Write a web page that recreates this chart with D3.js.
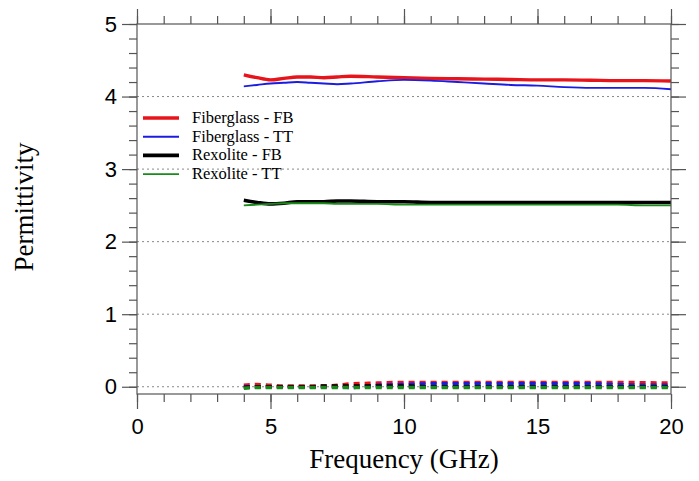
<!DOCTYPE html>
<html>
<head>
<meta charset="utf-8">
<script src="https://cdn.jsdelivr.net/npm/d3@7"></script>
<style>
  body { margin: 0; background: #fff; }
  .tick text { font-family: "Liberation Sans", Arial, sans-serif; font-size: 22px; fill: #000; }
  .domain { display: none; }
  .tick line { stroke: #555; stroke-width: 1.2; }
</style>
</head>
<body>
<svg width="699" height="481"></svg>
<script>
const width = 699;
const height = 481;

// frequency samples (GHz)
const freq = [4, 4.5, 5, 5.5, 6, 6.5, 7, 7.5, 8, 9, 10, 11, 12, 13, 14, 15, 16, 17, 18, 19, 20];

// real part (solid)
const fiberFB = [4.30, 4.26, 4.23, 4.25, 4.27, 4.27, 4.26, 4.27, 4.28, 4.27, 4.26, 4.25, 4.245, 4.24, 4.235, 4.23, 4.23, 4.225, 4.22, 4.22, 4.215];
const fiberTT = [4.14, 4.16, 4.18, 4.19, 4.20, 4.19, 4.18, 4.17, 4.18, 4.21, 4.23, 4.22, 4.20, 4.18, 4.16, 4.15, 4.13, 4.12, 4.12, 4.12, 4.10];
const rexFB = [2.57, 2.54, 2.52, 2.53, 2.55, 2.55, 2.55, 2.56, 2.56, 2.55, 2.55, 2.54, 2.54, 2.54, 2.54, 2.54, 2.54, 2.54, 2.54, 2.54, 2.54];
const rexTT = [2.50, 2.51, 2.52, 2.53, 2.53, 2.53, 2.53, 2.52, 2.52, 2.52, 2.51, 2.51, 2.51, 2.51, 2.51, 2.51, 2.51, 2.51, 2.51, 2.50, 2.50];

// imaginary part (dashed)
const fiberFBi = [0.02, 0.03, 0.02, 0.01, 0.01, 0.01, 0.01, 0.02, 0.04, 0.05, 0.06, 0.06, 0.06, 0.06, 0.06, 0.06, 0.06, 0.06, 0.06, 0.055, 0.05];
const fiberTTi = [0.0, 0.0, 0.0, 0.0, 0.0, 0.0, 0.0, 0.0, -0.01, 0.02, 0.03, 0.04, 0.04, 0.04, 0.04, 0.04, 0.04, 0.04, 0.03, 0.02, 0.02];
const rexFBi = [-0.01, 0.0, 0.0, 0.0, 0.0, 0.0, 0.01, 0.01, 0.01, 0.01, 0.01, 0.0, 0.0, 0.0, 0.0, 0.0, 0.0, 0.0, 0.0, 0.0, 0.0];
const rexTTi = [-0.02, -0.01, -0.01, -0.01, -0.01, -0.01, -0.01, -0.01, -0.01, -0.01, -0.01, -0.01, -0.01, -0.01, -0.01, -0.01, -0.01, -0.01, -0.01, -0.01, -0.01];

const xTicks = [0, 5, 10, 15, 20];
const yTicks = [0, 1, 2, 3, 4, 5];
const gridVals = [0, 1, 2, 3, 4];

const series = [
  { name: "Fiberglass - FB", re: fiberFB, im: fiberFBi, color: "#e8141c", w: 3.4 },
  { name: "Fiberglass - TT", re: fiberTT, im: fiberTTi, color: "#1c1ce0", w: 1.9 },
  { name: "Rexolite - FB", re: rexFB, im: rexFBi, color: "#000000", w: 3.6 },
  { name: "Rexolite - TT", re: rexTT, im: rexTTi, color: "#1a8a1a", w: 1.9 },
];

const svg = d3.select("svg");

const x = d3.scaleLinear().domain([0, 20]).range([137, 671]);
const y = d3.scaleLinear().domain([-0.1, 5]).range([394, 24]);

// grid
svg.append("g")
  .selectAll("line")
  .data(gridVals)
  .enter()
  .append("line")
  .attr("x1", x(0))
  .attr("x2", x(20))
  .attr("y1", (d) => y(d))
  .attr("y2", (d) => y(d))
  .attr("stroke", "#888")
  .attr("stroke-width", 1)
  .attr("stroke-dasharray", "2,3");

const line = (vals) =>
  d3.line()
    .x((d, i) => x(freq[i]))
    .y((d) => y(d))
    .curve(d3.curveMonotoneX)(vals);

// dashed (imaginary)
svg.append("g")
  .selectAll("path")
  .data(series)
  .enter()
  .append("path")
  .attr("d", (d) => line(d.im))
  .attr("fill", "none")
  .attr("stroke", (d) => d.color)
  .attr("stroke-width", 3.5)
  .attr("stroke-dasharray", "6,5");

// solid (real)
svg.append("g")
  .selectAll("path")
  .data(series)
  .enter()
  .append("path")
  .attr("d", (d) => line(d.re))
  .attr("fill", "none")
  .attr("stroke", (d) => d.color)
  .attr("stroke-width", (d) => d.w);

// frame
svg.append("rect")
  .attr("x", x(0))
  .attr("y", y(5))
  .attr("width", x(20) - x(0))
  .attr("height", y(-0.1) - y(5))
  .attr("fill", "none")
  .attr("stroke", "#555")
  .attr("stroke-width", 1.2);

const yMinor = d3.range(0, 5.01, 0.2);
const xMinor = d3.range(0, 21, 1);

// left
svg.append("g").attr("transform", `translate(${x(0)},0)`)
  .call(d3.axisLeft(y).tickValues(yMinor).tickSize(8).tickFormat(""));
svg.append("g").attr("transform", `translate(${x(0)},0)`)
  .call(d3.axisLeft(y).tickValues(yTicks).tickSize(15).tickPadding(5).tickFormat(d3.format("d")));
// right
svg.append("g").attr("transform", `translate(${x(20)},0)`)
  .call(d3.axisRight(y).tickValues(yMinor).tickSize(8).tickFormat(""));
svg.append("g").attr("transform", `translate(${x(20)},0)`)
  .call(d3.axisRight(y).tickValues(yTicks).tickSize(15).tickFormat(""));
// bottom
svg.append("g").attr("transform", `translate(0,${y(-0.1)})`)
  .call(d3.axisBottom(x).tickValues(xMinor).tickSize(8).tickFormat(""));
svg.append("g").attr("transform", `translate(0,${y(-0.1)})`)
  .call(d3.axisBottom(x).tickValues(xTicks).tickSize(15).tickPadding(9).tickFormat(d3.format("d")));
// top
svg.append("g").attr("transform", `translate(0,${y(5)})`)
  .call(d3.axisTop(x).tickValues(xMinor).tickSize(8).tickFormat(""));
svg.append("g").attr("transform", `translate(0,${y(5)})`)
  .call(d3.axisTop(x).tickValues(xTicks).tickSize(15).tickFormat(""));

// axis titles
svg.append("text")
  .attr("x", (x(0) + x(20)) / 2)
  .attr("y", 468)
  .attr("text-anchor", "middle")
  .attr("font-family", "'Liberation Serif', 'Times New Roman', serif")
  .attr("font-size", 27)
  .text("Frequency (GHz)");

svg.append("text")
  .attr("transform", "translate(33,207) rotate(-90)")
  .attr("text-anchor", "middle")
  .attr("font-family", "'Liberation Serif', 'Times New Roman', serif")
  .attr("font-size", 27)
  .text("Permittivity");

// legend
const legend = svg.append("g")
  .selectAll("g")
  .data(series)
  .enter()
  .append("g")
  .attr("transform", (d, i) => `translate(143,${118 + i * 18.7})`);

legend.append("line")
  .attr("x1", 0)
  .attr("x2", 36)
  .attr("stroke", (d) => d.color)
  .attr("stroke-width", (d) => d.w);

legend.append("text")
  .attr("x", 49)
  .attr("y", 5)
  .attr("font-family", "'Liberation Serif', 'Times New Roman', serif")
  .attr("font-size", 16.5)
  .text((d) => d.name);
</script>
</body>
</html>
